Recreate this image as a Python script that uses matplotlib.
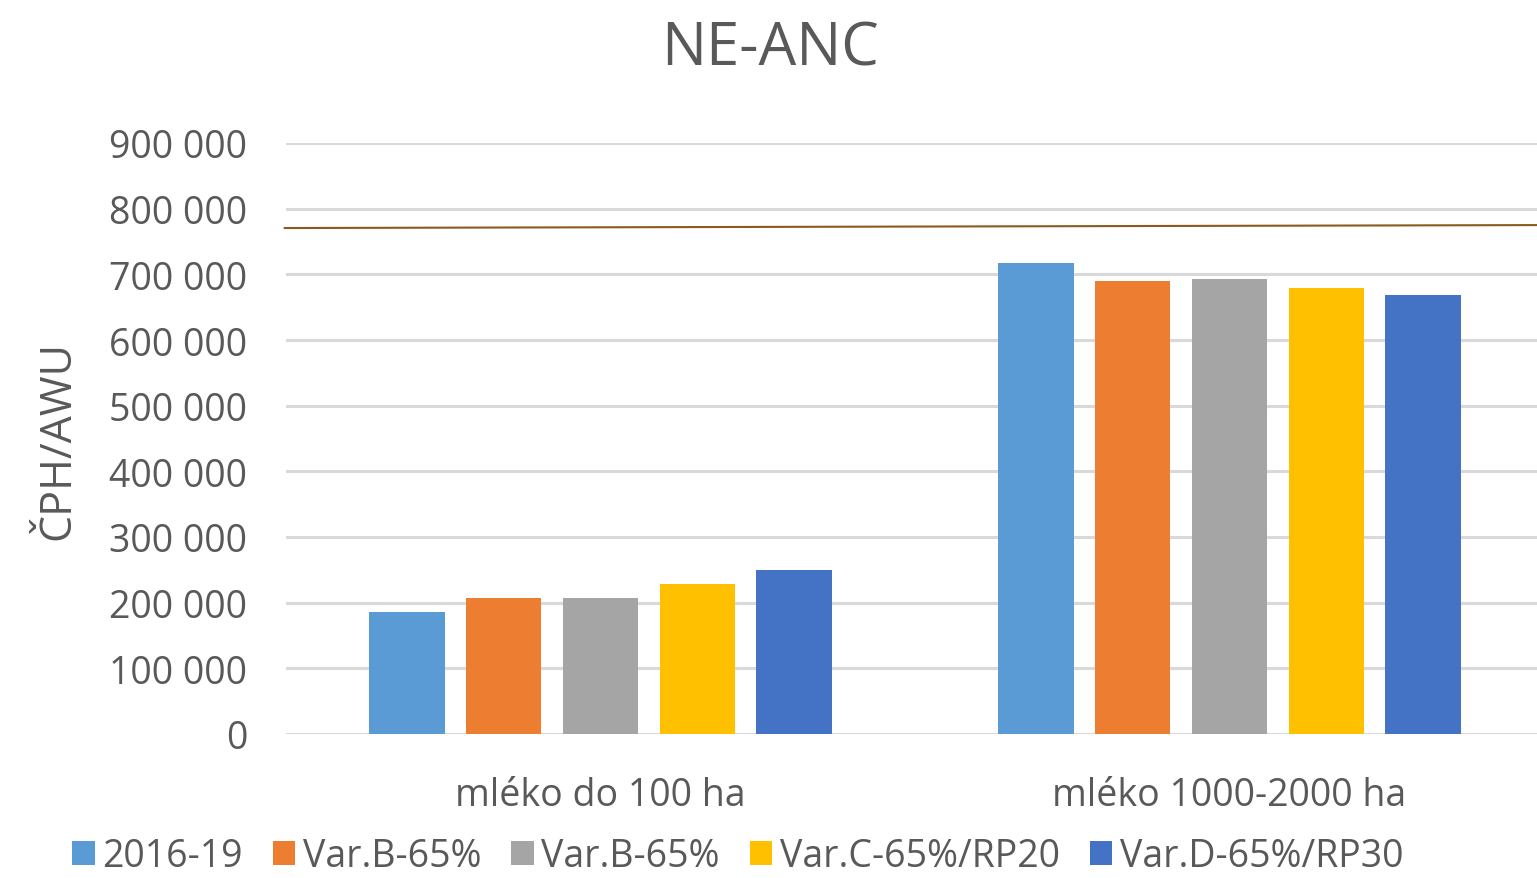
import matplotlib
matplotlib.use("Agg")
from matplotlib import pyplot as plt
import numpy as np

# data
categories = ["mléko do 100 ha", "mléko 1000-2000 ha"]
series_names = ["2016-19", "Var.B-65%", "Var.B-65%", "Var.C-65%/RP20", "Var.D-65%/RP30"]
values = [
    [186000, 717000],
    [207000, 690000],
    [207000, 693000],
    [228000, 679000],
    [250000, 668000],
]
colors = ["#5B9BD5", "#ED7D31", "#A5A5A5", "#FFC000", "#4472C4"]
yticks = [0, 100000, 200000, 300000, 400000, 500000, 600000, 700000, 800000, 900000]
ytick_labels = ["0", "100 000", "200 000", "300 000", "400 000", "500 000",
                "600 000", "700 000", "800 000", "900 000"]
# hand-drawn brown line across the plot
line_x = [-0.502, 1.49]
line_y = [770500, 775000]

txt = "#595959"
plt.rcParams['font.family'] = ['Open Sans', 'DejaVu Sans']

fig = plt.figure(figsize=(15.37, 8.79), dpi=100)
ax = fig.add_axes([286 / 1537, 1 - 735 / 879, (1544 - 286) / 1537, (735 - 144) / 879])

x = np.arange(len(categories))
pitch = 0.154
width = 0.12
for i, (name, vals, c) in enumerate(zip(series_names, values, colors)):
    ax.bar(x + (i - 2) * pitch, vals, width, color=c, label=name, zorder=3)

ax.plot(line_x, line_y, color="#8a5a1e", lw=1.5, zorder=4, clip_on=False)

ax.set_xlim(-0.5, 1.5)
ax.set_ylim(0, 900000)
ax.set_yticks(yticks)
ax.set_yticklabels(ytick_labels)
ax.set_xticks(x)
ax.set_xticklabels(categories)
ax.tick_params(axis="y", length=0, pad=28, labelsize=27, labelcolor=txt)
ax.tick_params(axis="x", length=0, pad=30, labelsize=27, labelcolor=txt)
ax.grid(axis="y", color="#d9d9d9", lw=2.2, zorder=0)
for s in ax.spines.values():
    s.set_visible(False)

fig.text(0.501, 1 - 49 / 879, "NE-ANC", ha="center", va="center", fontsize=43, color=txt)
fig.text(58 / 1537, 1 - 440 / 879, "ČPH/AWU", ha="center", va="center", rotation=90,
         fontsize=31, color=txt)

fig.legend(loc="center", bbox_to_anchor=(0.48, 1 - 857 / 879), ncol=5, frameon=False,
           fontsize=27, labelcolor=txt, handlelength=0.6, handleheight=0.6,
           handletextpad=0.2, columnspacing=0.8)

fig.savefig("out.png", dpi=100)
